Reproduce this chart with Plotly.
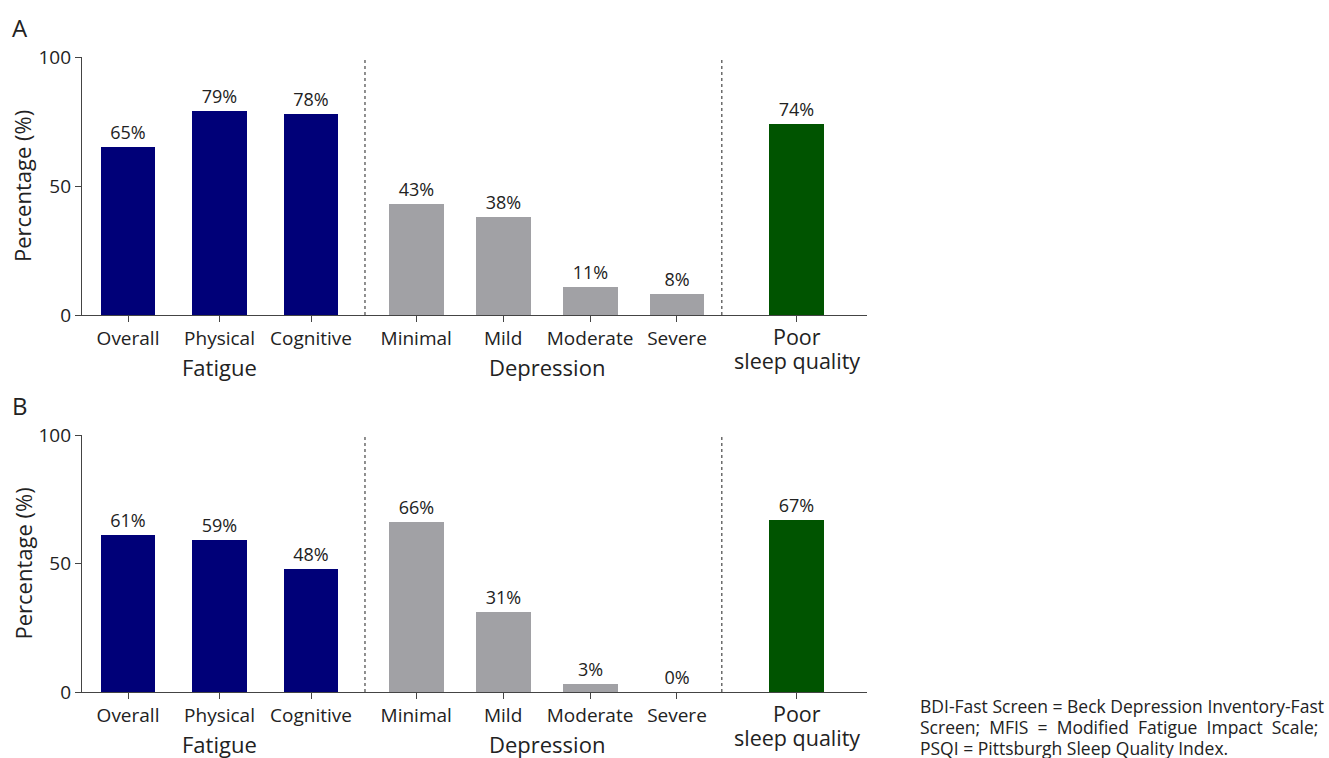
import plotly.graph_objects as go

# ---- data -------------------------------------------------------------
fatigue_labels = ["Overall", "Physical", "Cognitive"]
depression_labels = ["Minimal", "Mild", "Moderate", "Severe"]
sleep_labels = ["Poor sleep quality"]

a_fatigue = [65, 79, 78]
a_depression = [43, 38, 11, 8]
a_sleep = [74]

b_fatigue = [61, 59, 48]
b_depression = [66, 31, 3, 0]
b_sleep = [67]

y_ticks = [0, 50, 100]

# ---- layout helpers ----------------------------------------------------
W, H = 1329, 758
FONT = "Open Sans"
TXT = "#222222"
NAVY = "#000078"
GREY = "#a1a1a5"
GREEN = "#005400"

# horizontal slot of each bar (fatigue, depression, sleep groups)
fatigue_pos = [0.0, 1.0, 2.0]
depression_pos = [3.15, 4.1, 5.05, 6.0]
sleep_pos = [7.31]
separators = [2.59, 6.49]
x_range = [-0.503, 8.077]
BAR_W = 0.6


def px_x(p):
    return p / W


def px_y(p):
    return 1 - p / H


def note(text, x, y, xref="paper", size=22, **kw):
    d = dict(text=text, x=x, xref=xref, y=px_y(y), yref="paper", showarrow=False,
             xanchor="center", yanchor="middle",
             font=dict(family=FONT, size=size, color=TXT))
    d.update(kw)
    return d


panels = [
    # (suffix, data, top px, bottom px, letter)
    ("", (a_fatigue, a_depression, a_sleep), 57, 315, "A"),
    ("2", (b_fatigue, b_depression, b_sleep), 435, 692, "B"),
]

fig = go.Figure()
annotations = []
shapes = []

for suffix, (fat, dep, slp), top, bot, letter in panels:
    xa, ya = "x" + suffix, "y" + suffix
    for pos, vals, color in ((fatigue_pos, fat, NAVY),
                             (depression_pos, dep, GREY),
                             (sleep_pos, slp, GREEN)):
        fig.add_trace(go.Bar(
            x=pos, y=vals, width=BAR_W, xaxis=xa, yaxis=ya,
            marker=dict(color=color, line=dict(width=0)),
            text=[f"{v}%" for v in vals], textposition="outside",
            textfont=dict(family=FONT, size=18, color=TXT),
            cliponaxis=False, showlegend=False, hoverinfo="skip",
        ))

    # dotted separators between groups
    for s in separators:
        shapes.append(dict(type="line", xref=xa, yref=ya + " domain",
                           x0=s, x1=s, y0=0, y1=1,
                           line=dict(color="#555555", width=1.3, dash="dot")))

    # group titles under the tick labels
    annotations.append(note("Fatigue", fatigue_pos[1], bot + 52, xref=xa))
    annotations.append(note("Depression", (depression_pos[0] + depression_pos[-1]) / 2,
                            bot + 52, xref=xa))
    annotations.append(note("Poor", sleep_pos[0], bot + 21, xref=xa, size=21.5))
    annotations.append(note("sleep quality", sleep_pos[0], bot + 45, xref=xa, size=21.5))

    # y-axis title and panel letter
    annotations.append(note("Percentage (%)", px_x(22), (top + bot) / 2, textangle=-90))
    annotations.append(note(letter, px_x(10), top - 30, size=24, xanchor="left"))

# abbreviations footnote (middle line spread out to the block width)
sp = "\u00a0 "
foot = [
    "BDI-Fast Screen = Beck Depression Inventory-Fast",
    sp.join(["Screen;", "MFIS", "=", "Modified", "Fatigue", "Impact", "Scale;"]),
    "PSQI = Pittsburgh Sleep Quality Index.",
]
for i, line in enumerate(foot):
    annotations.append(note(line, px_x(918), 706 + 21 * i, size=17.5, xanchor="left"))

tick_pos = fatigue_pos + depression_pos + sleep_pos
tick_text = fatigue_labels + depression_labels + [""]

x_dom = [px_x(82), px_x(867)]
axis_common = dict(showline=True, linecolor="#444444", linewidth=1.3, ticks="outside",
                   ticklen=6, tickwidth=1.3, tickcolor="#444444", showgrid=False,
                   zeroline=False, automargin=False,
                   tickfont=dict(family=FONT, size=19, color=TXT))

layout = dict(
    width=W, height=H, margin=dict(l=0, r=0, t=0, b=0, pad=0, autoexpand=False),
    paper_bgcolor="white", plot_bgcolor="white",
    bargap=0, annotations=annotations, shapes=shapes,
)
for suffix, _, top, bot, _l in panels:
    layout["xaxis" + suffix] = dict(domain=x_dom, range=x_range, tickvals=tick_pos,
                                    ticktext=tick_text, anchor="y" + suffix, **axis_common)
    layout["yaxis" + suffix] = dict(domain=[px_y(bot), px_y(top)], range=[0, 100],
                                    tickvals=y_ticks, anchor="x" + suffix, **axis_common)

fig.update_layout(**layout)
fig.write_html("out.html")
